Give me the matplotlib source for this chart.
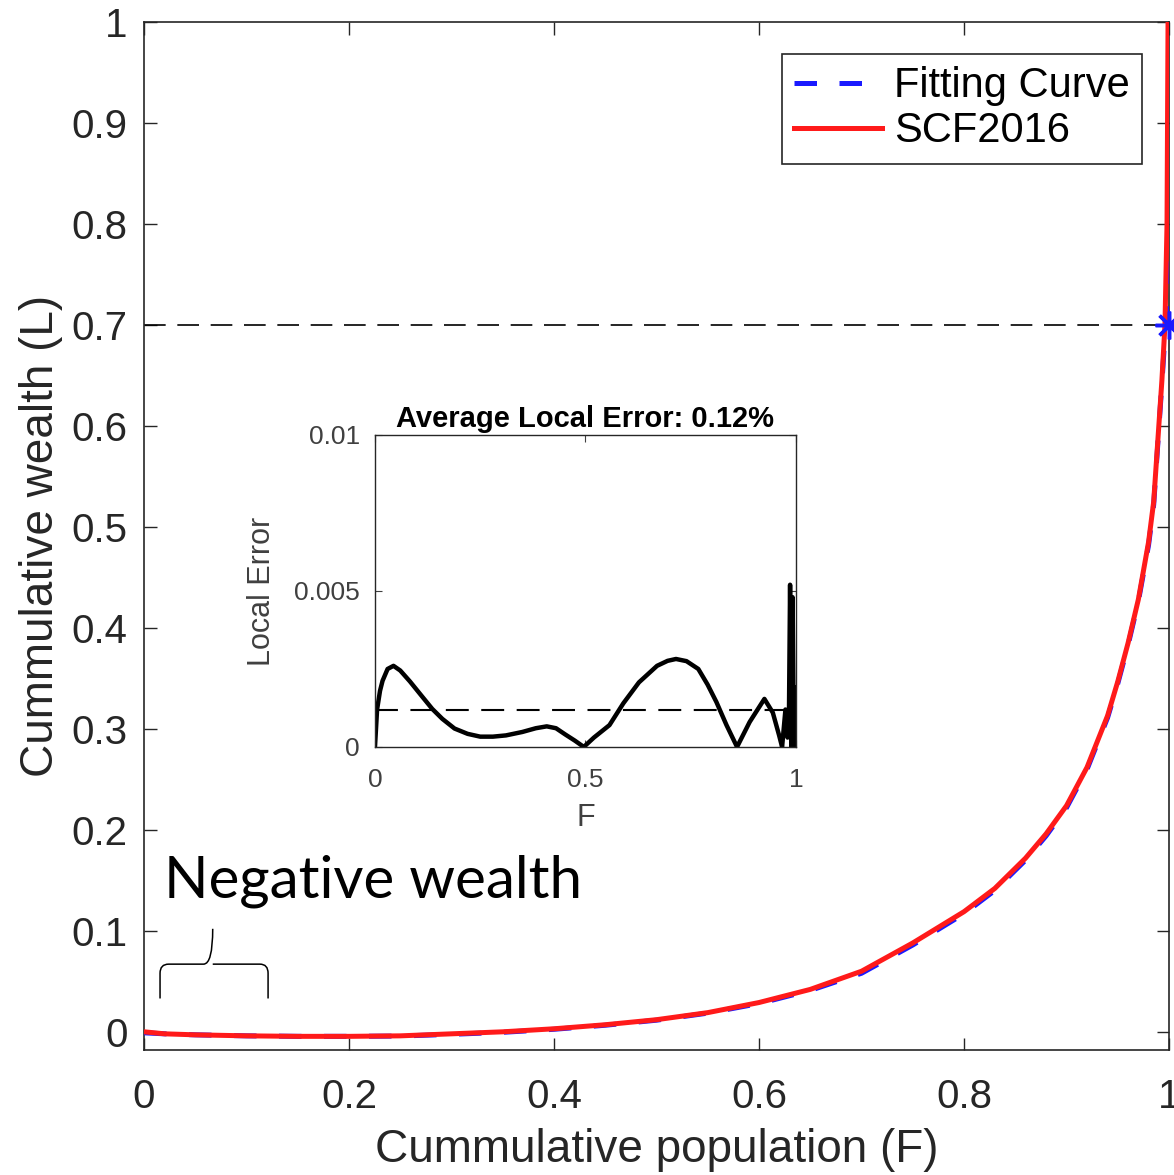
import numpy as np
import matplotlib
matplotlib.use('Agg')
import matplotlib.pyplot as plt
from matplotlib.path import Path
from matplotlib.patches import PathPatch

plt.rcParams['font.family'] = ['Liberation Sans', 'DejaVu Sans']

# Lorenz curve of SCF2016 and its fit
F_scf = [0.0, 0.02, 0.05, 0.10, 0.15, 0.20, 0.25, 0.30, 0.35, 0.40, 0.45, 0.50, 0.55,
         0.60, 0.65, 0.70, 0.75, 0.80, 0.83, 0.86, 0.88, 0.90, 0.92, 0.94, 0.95, 0.96,
         0.97, 0.98, 0.985, 0.99, 0.993, 0.996, 0.998, 0.999]
L_scf = [0.0, -0.002, -0.003, -0.004, -0.0045, -0.0045, -0.004, -0.002, 0.0, 0.003,
         0.007, 0.012, 0.019, 0.029, 0.042, 0.060, 0.088, 0.119, 0.142, 0.172, 0.196,
         0.224, 0.262, 0.313, 0.347, 0.385, 0.428, 0.485, 0.525, 0.600, 0.645, 0.700,
         0.800, 1.0]

F_fit = [0.0, 0.02, 0.05, 0.10, 0.15, 0.20, 0.25, 0.30, 0.35, 0.40, 0.45, 0.50, 0.55,
         0.60, 0.65, 0.70, 0.75, 0.80, 0.83, 0.86, 0.88, 0.90, 0.92, 0.94, 0.95, 0.96,
         0.97, 0.98, 0.985, 0.99, 0.993, 0.996, 0.999, 1.0, 1.0]
L_fit = [-0.001, -0.002, -0.003, -0.004, -0.0045, -0.0045, -0.0042, -0.0025, -0.0005,
         0.0025, 0.0065, 0.0115, 0.0185, 0.028, 0.041, 0.058, 0.086, 0.117, 0.140, 0.170,
         0.194, 0.222, 0.260, 0.311, 0.345, 0.383, 0.426, 0.482, 0.522, 0.597, 0.642,
         0.690, 0.700, 0.720, 1.0]

top_point = (1.0, 0.7)

# inset: local error between fit and data
F_err = [0.0, 0.005, 0.012, 0.018, 0.030, 0.044, 0.060, 0.083, 0.110, 0.136, 0.160,
         0.189, 0.220, 0.250, 0.280, 0.311, 0.350, 0.382, 0.408, 0.430, 0.452, 0.475,
         0.496, 0.520, 0.557, 0.590, 0.627, 0.670, 0.695, 0.715, 0.740, 0.768, 0.790,
         0.811, 0.835, 0.860, 0.890, 0.925, 0.945, 0.960, 0.967, 0.975, 0.980, 0.983,
         0.986, 0.989, 0.992, 0.995, 0.998, 1.0]
err = [0.0, 0.0012, 0.0018, 0.00212, 0.0025, 0.0026, 0.00245, 0.0021, 0.00165, 0.00122,
       0.0009, 0.00059, 0.00042, 0.00033, 0.00033, 0.00037, 0.00048, 0.0006, 0.00066,
       0.0006, 0.0004, 0.0002, 0.0, 0.0003, 0.0007, 0.0014, 0.00207, 0.0026, 0.00276,
       0.00282, 0.00275, 0.0025, 0.002, 0.00144, 0.0007, 0.0, 0.0008, 0.00154, 0.0011,
       0.00037, 0.0, 0.0012, 0.0003, 0.0005, 0.0052, 0.0, 0.0048, 0.0, 0.0019, 0.0]
avg_err = 0.0012

fig = plt.figure(figsize=(11.74, 11.75), dpi=100)
ax = fig.add_axes([0.1227, 0.1064, 0.8731, 0.8749])

ax.plot(F_fit, L_fit, color='#1a1aff', linestyle='--', dashes=(4.5, 4.5), lw=3.6,
        label='Fitting Curve', zorder=3)
ax.plot(F_scf, L_scf, color='#ff1a1a', lw=3.6, label='SCF2016', zorder=4)
ax.axhline(top_point[1], color='black', lw=1.2, dashes=(13, 7), zorder=2)
ax.plot(top_point[0], top_point[1], marker=(8, 2, 0), markersize=20, color='#1a1aff',
        mew=2.5, zorder=5, clip_on=False)

ax.set_xlim(0, 1)
ax.set_ylim(-0.018, 1)
ax.set_xticks([0, 0.2, 0.4, 0.6, 0.8, 1])
ax.set_xticklabels(['0', '0.2', '0.4', '0.6', '0.8', '1'])
ax.set_yticks(np.arange(0, 1.01, 0.1))
ax.set_yticklabels(['0', '0.1', '0.2', '0.3', '0.4', '0.5', '0.6', '0.7', '0.8', '0.9', '1'])
ax.tick_params(direction='in', length=9, width=1, top=True, right=True,
               labelsize=29, labelcolor='#262626', color='#262626')
ax.tick_params(axis='x', pad=20)
ax.tick_params(axis='y', pad=12)
for s in ax.spines.values():
    s.set_color('#262626')
    s.set_linewidth(1.2)
ax.set_xlabel('Cummulative population (F)', fontsize=33, color='#262626', labelpad=9)
ax.set_ylabel('Cummulative wealth (L)', fontsize=33, color='#262626', labelpad=6)

leg = ax.legend(loc='upper right', bbox_to_anchor=(0.974, 0.969), borderaxespad=0,
                fontsize=30, fancybox=False, edgecolor='#262626', framealpha=1,
                handlelength=2.1, handletextpad=0.3, borderpad=0.3, labelspacing=0.12)
leg.get_frame().set_linewidth(1.2)

# "Negative wealth" brace annotation
verts = [(0.0156, 0.033), (0.0156, 0.058), (0.0156, 0.067), (0.024, 0.067),
         (0.058, 0.067), (0.067, 0.067), (0.067, 0.102),
         (0.067, 0.067), (0.076, 0.067), (0.113, 0.067), (0.121, 0.067), (0.121, 0.058),
         (0.121, 0.033)]
codes = [Path.MOVETO, Path.LINETO, Path.CURVE3, Path.CURVE3, Path.LINETO, Path.CURVE3,
         Path.CURVE3, Path.MOVETO, Path.CURVE3, Path.LINETO, Path.CURVE3, Path.CURVE3,
         Path.LINETO]
ax.add_patch(PathPatch(Path(verts, codes), fill=False, lw=1.1, color='black', zorder=6))
ax.text(0.0195, 0.133, 'Negative wealth', fontsize=42, family=['Lato', 'DejaVu Sans'],
        color='black', va='baseline', ha='left')

# inset
ins = fig.add_axes([0.3194, 0.3643, 0.3586, 0.2655])
ins.plot(F_err, err, color='black', lw=3.2)
ins.plot([0, 0.98], [avg_err, avg_err], color='black', lw=1.5, dashes=(11, 6))
ins.set_xlim(0, 1)
ins.set_ylim(0, 0.01)
ins.set_xticks([0, 0.5, 1])
ins.set_xticklabels(['0', '0.5', '1'])
ins.set_yticks([0, 0.005, 0.01])
ins.set_yticklabels(['0', '0.005', '0.01'])
ins.tick_params(direction='in', length=5, width=0.8, top=True, right=True,
                labelsize=19, labelcolor='#404040', color='#404040')
ins.tick_params(axis='x', pad=15)
ins.tick_params(axis='y', pad=11)
for s in ins.spines.values():
    s.set_color('#262626')
    s.set_linewidth(1)
ins.set_xlabel('F', fontsize=22, color='#404040', labelpad=8)
ins.set_ylabel('Local Error', fontsize=22, color='#404040', labelpad=12)
ins.set_title('Average Local Error: 0.12%', fontsize=21, fontweight='bold', pad=6)

fig.savefig('out.png', dpi=100)
